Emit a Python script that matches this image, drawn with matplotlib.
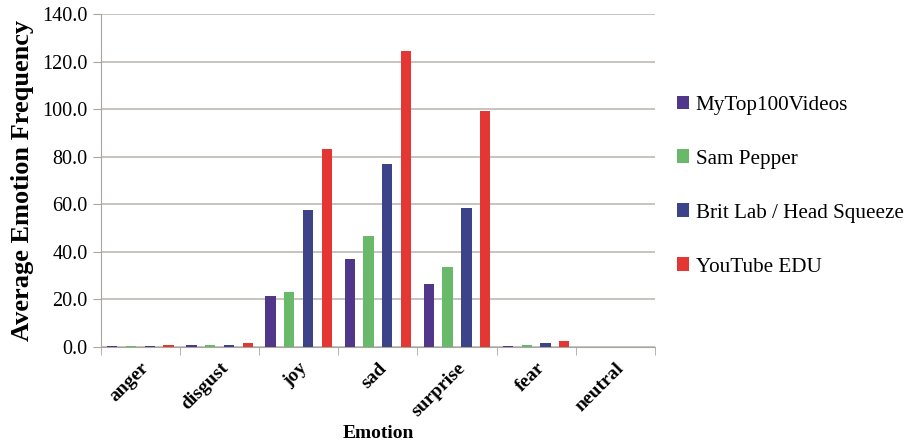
import numpy as np
import matplotlib.pyplot as plt

emotions = ['anger', 'disgust', 'joy', 'sad', 'surprise', 'fear', 'neutral']
series = ['MyTop100Videos', 'Sam Pepper', 'Brit Lab / Head Squeeze', 'YouTube EDU']
mytop100 = [0.4, 0.7, 21.6, 36.9, 26.3, 0.4, 0.1]
sam_pepper = [0.4, 0.9, 23.0, 46.6, 33.6, 0.6, 0.0]
brit_lab = [0.4, 0.7, 57.4, 76.9, 58.5, 1.5, 0.1]
youtube_edu = [0.7, 1.5, 83.2, 124.5, 99.2, 2.5, 0.1]
colors = ['#50378A', '#68B96A', '#3D4389', '#E43733']

plt.rcParams['font.family'] = ['Liberation Serif', 'DejaVu Serif']

fig = plt.figure(figsize=(9.16, 4.43), dpi=100)
ax = fig.add_axes([0.11, 0.217, 0.605, 0.751])

x = np.arange(len(emotions))
step = 0.237
width = 0.13
for i, (vals, name) in enumerate(zip([mytop100, sam_pepper, brit_lab, youtube_edu], series)):
    ax.bar(x + (i - 1.5) * step, vals, width, color=colors[i], label=name, zorder=3)

ax.set_xlim(-0.5, len(emotions) - 0.5)
ax.set_ylim(0, 140)
ax.set_yticks(np.arange(0, 141, 20))
ax.set_yticklabels(['%.1f' % v for v in np.arange(0, 141, 20)], fontsize=14.5)
ax.yaxis.grid(True, color='#BDBAB5', linewidth=1.2, zorder=0)

ax.set_xticks(x)
ax.set_xticklabels(emotions, rotation=45, ha='right', rotation_mode='anchor',
                   fontsize=14, fontweight='bold')
ax.set_xticks(np.arange(-0.5, len(emotions), 1), minor=True)
ax.tick_params(axis='x', which='major', length=0, pad=9)
ax.tick_params(axis='x', which='minor', length=6, color='#A9A6A2')
ax.tick_params(axis='y', length=6, color='#A9A6A2')

for s in ['top', 'right']:
    ax.spines[s].set_visible(False)
ax.spines['left'].set_color('#A9A6A2')
ax.spines['bottom'].set_color('#A9A6A2')

ax.set_ylabel('Average Emotion Frequency', fontsize=19, fontweight='bold', labelpad=6)
ax.set_xlabel('Emotion', fontsize=14, fontweight='bold', labelpad=4)

fig.legend(loc='center left', bbox_to_anchor=(0.718, 0.58), frameon=False,
           fontsize=15.2, labelspacing=1.65, handlelength=0.6, handleheight=0.6,
           handletextpad=0.3)

fig.savefig('out.png', dpi=100)
